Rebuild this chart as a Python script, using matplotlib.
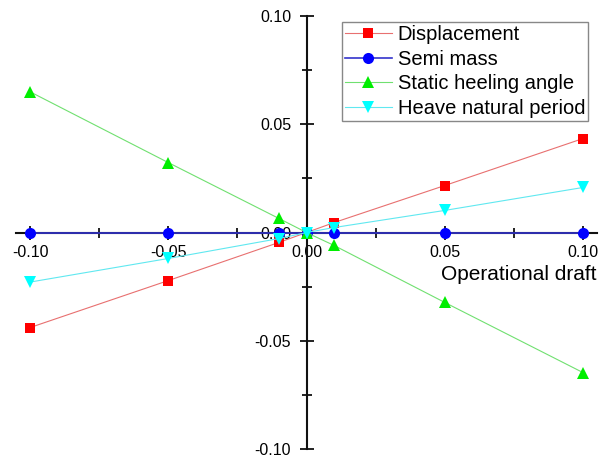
import matplotlib
matplotlib.use("Agg")
import matplotlib.pyplot as plt
import matplotlib.transforms as mtrans
from matplotlib.ticker import MultipleLocator, FormatStrFormatter

plt.rcParams['font.family'] = ['Liberation Sans', 'DejaVu Sans']

x = [-0.10, -0.05, -0.01, 0.0, 0.01, 0.05, 0.10]
displacement = [-0.0439, -0.0222, -0.0046, 0.0, 0.0046, 0.0217, 0.0434]
semi_mass = [0.0, 0.0, 0.0, 0.0, 0.0, 0.0, 0.0]
heeling = [0.0650, 0.0323, 0.0065, 0.0, -0.0060, -0.0323, -0.0647]
heave = [-0.0229, -0.0120, -0.0028, 0.0, 0.0023, 0.0102, 0.0208]

series = [
    ("Displacement", displacement, "#ff0000", "#e87070", "s", 7),
    ("Semi mass", semi_mass, "#0000ff", "#3333cc", "o", 8),
    ("Static heeling angle", heeling, "#00ee00", "#70e070", "^", 8.5),
    ("Heave natural period", heave, "#00ffff", "#60e8f0", "v", 8.5),
]

fig = plt.figure(figsize=(6.01, 4.59), dpi=100)
ax = fig.add_axes([0.027, 0.0218, 0.966, 0.9433])

for label, ys, col, lcol, mk, ms in series:
    lw = 1.2 if label == "Semi mass" else 0.8
    ax.plot(x, ys, color=lcol, lw=lw, marker=mk, markersize=ms,
            markerfacecolor=col, markeredgewidth=0, label=label,
            clip_on=False, zorder=3)

ax.set_xlim(-0.105, 0.105)
ax.set_ylim(-0.10, 0.10)

ax.spines['left'].set_position(('data', 0))
ax.spines['bottom'].set_position(('data', 0))
ax.spines['top'].set_visible(False)
ax.spines['right'].set_visible(False)
for s in ('left', 'bottom'):
    ax.spines[s].set_linewidth(1.5)
    ax.spines[s].set_color('#111111')

ax.xaxis.set_major_locator(MultipleLocator(0.05))
ax.xaxis.set_minor_locator(MultipleLocator(0.025))
ax.yaxis.set_major_locator(MultipleLocator(0.05))
ax.yaxis.set_minor_locator(MultipleLocator(0.025))
ax.xaxis.set_major_formatter(FormatStrFormatter('%.2f'))
ax.yaxis.set_major_formatter(FormatStrFormatter('%.2f'))
ax.tick_params(which='major', direction='inout', length=10, width=1.3,
               labelsize=11.5, color='#111111')
ax.tick_params(which='minor', direction='inout', length=7, width=1.3,
               color='#111111')
ax.tick_params(axis='x', which='major', pad=4)
ax.tick_params(axis='y', which='major', pad=6)

ax.text(1.0, -0.0192, "Operational draft",
        transform=mtrans.blended_transform_factory(ax.transAxes, ax.transData),
        ha='right', va='center', fontsize=15)

leg = ax.legend(loc='upper right', bbox_to_anchor=(0.9955, 1.0), fontsize=14.5,
                frameon=True, fancybox=False, edgecolor='#888888',
                framealpha=1, borderpad=0.15, labelspacing=0.28,
                handlelength=2.3, handletextpad=0.3, borderaxespad=0.3)
leg.get_frame().set_linewidth(1.0)

fig.savefig("out.png", dpi=100)
